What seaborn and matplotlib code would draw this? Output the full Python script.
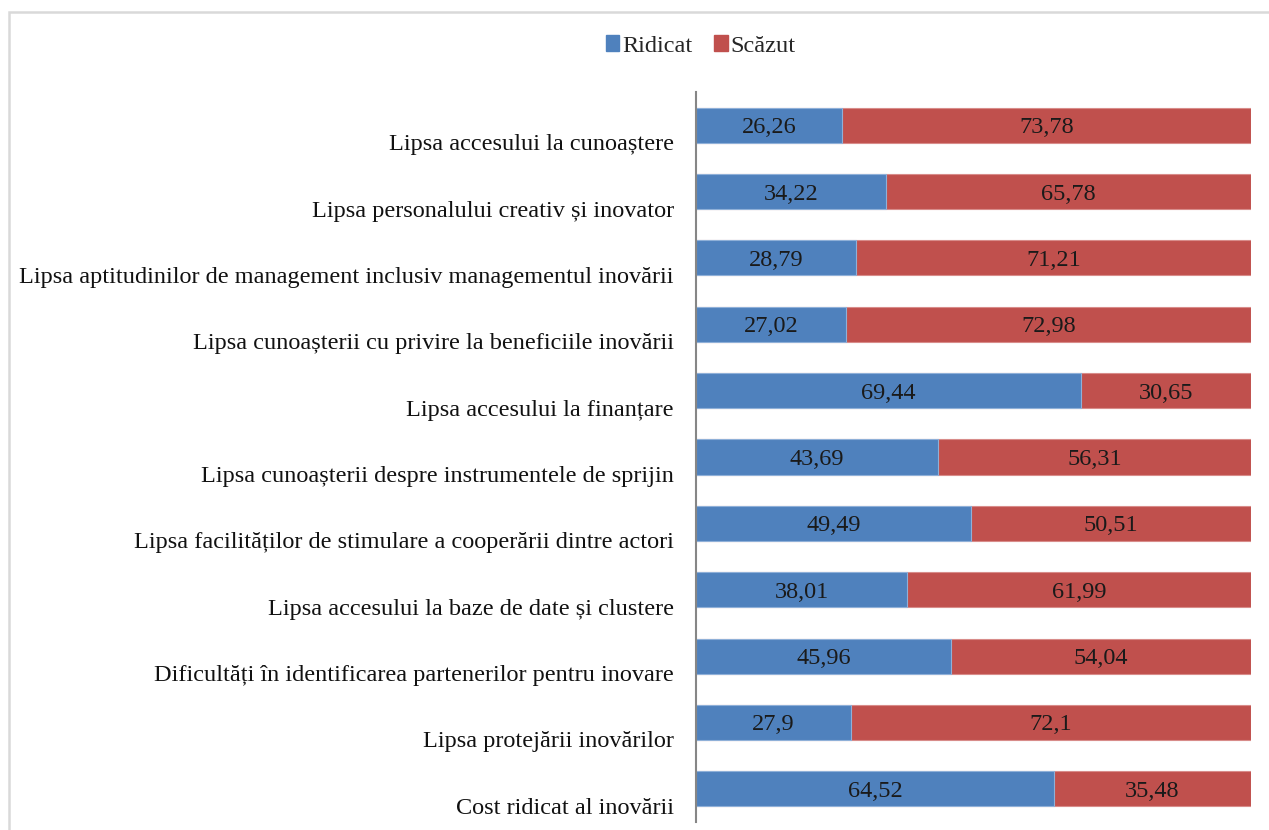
import matplotlib
matplotlib.use("Agg")
import matplotlib.pyplot as plt
import matplotlib.patches as mpatches
import matplotlib.transforms as mtransforms
import seaborn as sns
import pandas as pd

categories = [
    "Lipsa accesului la cunoaștere",
    "Lipsa personalului creativ și inovator",
    "Lipsa aptitudinilor de management inclusiv managementul inovării",
    "Lipsa cunoașterii cu privire la beneficiile inovării",
    "Lipsa accesului la finanțare",
    "Lipsa cunoașterii despre instrumentele de sprijin",
    "Lipsa facilităților de stimulare a cooperării dintre actori",
    "Lipsa accesului la baze de date și clustere",
    "Dificultăți în identificarea partenerilor pentru inovare",
    "Lipsa protejării inovărilor",
    "Cost ridicat al inovării",
]
ridicat = [26.26, 34.22, 28.79, 27.02, 69.44, 43.69, 49.49, 38.01, 45.96, 27.9, 64.52]
scazut = [73.78, 65.78, 71.21, 72.98, 30.65, 56.31, 50.51, 61.99, 54.04, 72.1, 35.48]
series_names = ["Ridicat", "Scăzut"]

BLUE = "#4F81BD"
RED = "#C0504D"
FS = 17.5

df = pd.DataFrame({"cat": categories, "r": ridicat, "s": scazut})
df["total"] = df["r"] + df["s"]
df["r_pct"] = df["r"] / df["total"] * 100
df["full"] = 100.0

sns.set_theme(style="white")
plt.rcParams["font.family"] = ["Liberation Serif", "DejaVu Serif"]

fig = plt.figure(figsize=(12.69, 8.30), dpi=100)
ax = fig.add_axes([696 / 1269, 1 - 822 / 830, (1251 - 696) / 1269, (822 - 92) / 830])

sns.barplot(data=df, y="cat", x="full", color=RED, saturation=1, width=0.53,
            orient="h", ax=ax, edgecolor="#D88C8A", linewidth=0.8)
sns.barplot(data=df, y="cat", x="r_pct", color=BLUE, saturation=1, width=0.53,
            orient="h", ax=ax, edgecolor="#8FB0D8", linewidth=0.8)

fmt = lambda v: f"{v:g}".replace(".", ",")
red_cont, blue_cont = ax.containers[0], ax.containers[1]
for bar, rb, val in zip(red_cont, blue_cont, scazut):
    x0 = rb.get_width()
    xc = (x0 + 100) / 2
    ax.text(xc, bar.get_y() + bar.get_height() / 2, fmt(val), ha="center",
            va="center_baseline", fontsize=FS, color="#1a1a1a")
for bar, val in zip(blue_cont, ridicat):
    ax.text(bar.get_width() / 2, bar.get_y() + bar.get_height() / 2, fmt(val),
            ha="center", va="center_baseline", fontsize=FS, color="#1a1a1a")

ax.set_xlim(0, 100)
ax.set_xlabel("")
ax.set_ylabel("")
ax.set_xticks([])
ax.tick_params(axis="y", length=0, pad=16, labelsize=FS, labelcolor="#111111")
offset = mtransforms.ScaledTranslation(0, -0.17, fig.dpi_scale_trans)
for lab in ax.get_yticklabels():
    lab.set_transform(lab.get_transform() + offset)
for s in ["top", "right", "bottom"]:
    ax.spines[s].set_visible(False)
ax.spines["left"].set_color("#868686")
ax.spines["left"].set_linewidth(1.5)

handles = [mpatches.Patch(color=BLUE, label=series_names[0]),
           mpatches.Patch(color=RED, label=series_names[1])]
fig.legend(handles=handles, loc="center", bbox_to_anchor=(701 / 1269, 1 - 46 / 830),
           ncol=2, frameon=False, fontsize=FS, handlelength=0.55, handleheight=0.6,
           handletextpad=0.12, columnspacing=0.9)

fig.add_artist(mpatches.Rectangle((8.5 / 1269, -0.1), 1.2, 1 - 12.5 / 830 + 0.1,
                                  transform=fig.transFigure, fill=False,
                                  edgecolor="#D9D9D9", linewidth=1.8))

fig.savefig("out.png", dpi=100)
